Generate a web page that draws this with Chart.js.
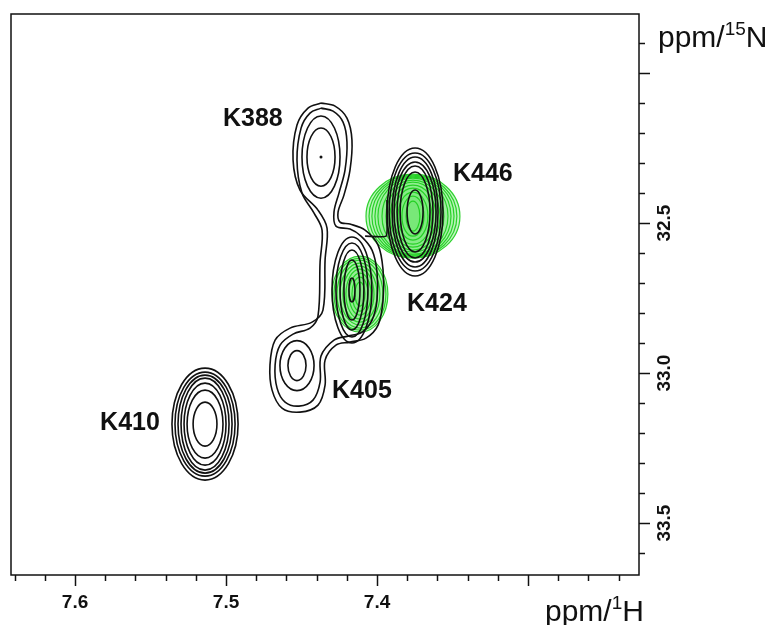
<!DOCTYPE html>
<html>
<head>
<meta charset="utf-8">
<script src="https://cdn.jsdelivr.net/npm/chart.js@4/dist/chart.umd.min.js"></script>
<style>
  html, body { margin: 0; padding: 0; background: #fff; }
  #wrap { width: 781px; height: 625px; }
</style>
</head>
<body>
<div id="wrap"><canvas id="NmrChart"></canvas></div>
<script>
// axis ranges in ppm (both axes run "backwards")
const xRange = [7.2265, 7.6424]
const yRange = [31.803, 33.673]

const xMajorTicks = [7.6, 7.5, 7.4, 7.3]
const xTickLabels = ['7.6', '7.5', '7.4', '']
const xMinorTicks = [7.64, 7.62, 7.58, 7.56, 7.54, 7.52, 7.48, 7.46, 7.44, 7.42, 7.38, 7.36, 7.34, 7.32, 7.28, 7.26, 7.24]
const yMajorTicks = [32.0, 32.5, 33.0, 33.5]
const yTickLabels = ['', '32.5', '33.0', '33.5']
const yMinorTicks = [31.9, 32.1, 32.2, 32.3, 32.4, 32.6, 32.7, 32.8, 32.9, 33.1, 33.2, 33.3, 33.4, 33.6]

// peaks (black spectrum)
const peakNames = ['K388', 'K446', 'K424', 'K405', 'K410']
const peakH = [7.4371, 7.3748, 7.4166, 7.4530, 7.5139]
const peakN = [32.28, 32.463, 32.723, 32.975, 33.17]
// contour half widths per peak, [dH, dN] in ppm
const peakLevels = [
  [[0.0093, 0.097], [0.0126, 0.137]],
  [[0.0185, 0.2133], [0.0172, 0.1967], [0.0152, 0.1833], [0.0139, 0.1667], [0.0119, 0.1533], [0.0099, 0.1333], [0.0053, 0.0733]],
  [[0.002, 0.04], [0.0053, 0.1], [0.0079, 0.1333], [0.0106, 0.1567], [0.0132, 0.1767]],
  [[0.006, 0.05], [0.0113, 0.0833]],
  [[0.0219, 0.1867], [0.0199, 0.1733], [0.0179, 0.1633], [0.0159, 0.1533], [0.0139, 0.1367], [0.0119, 0.1133], [0.0079, 0.0733]]
]
// label anchors (left, baseline) in ppm
const labelH = [7.502, 7.3497, 7.3801, 7.4298, 7.5834]
const labelN = [32.1767, 32.36, 32.7933, 33.0833, 33.19]

// green spectrum
const greenH = [7.3762, 7.4113]
const greenN = [32.477, 32.7367]
const greenLevels = [
  [[0.0311, 0.14], [0.0291, 0.1367], [0.0272, 0.1333], [0.0252, 0.13], [0.0232, 0.1267], [0.0205, 0.12], [0.0179, 0.1133], [0.0152, 0.1033], [0.0126, 0.0933], [0.0099, 0.08], [0.0073, 0.0667], [0.0046, 0.05]],
  [[0.0185, 0.1267], [0.0172, 0.12], [0.0152, 0.1133], [0.0132, 0.1033], [0.0113, 0.0933], [0.0093, 0.0833], [0.0073, 0.07], [0.0053, 0.0567], [0.0033, 0.04]]
]

// merged outer contours K388 - K424 - K405
const bridgeOuterH = [7.4371, 7.4278, 7.4199, 7.4166, 7.4179, 7.4219, 7.4258, 7.4245, 7.4179, 7.4079, 7.3993, 7.3960, 7.3960, 7.3993, 7.4073, 7.4179, 7.4272, 7.4344, 7.4344, 7.4391, 7.4510, 7.4629, 7.4695, 7.4709, 7.4675, 7.4576, 7.4430, 7.4358, 7.4344, 7.4331, 7.4391, 7.4510, 7.4556, 7.4530, 7.4457, 7.4371]
const bridgeOuterN = [32.10, 32.11, 32.15, 32.2233, 32.3233, 32.4067, 32.4633, 32.4967, 32.5033, 32.5233, 32.5733, 32.6567, 32.7567, 32.84, 32.8833, 32.8967, 32.9067, 32.9567, 33.04, 33.1067, 33.13, 33.1167, 33.0567, 32.9733, 32.89, 32.85, 32.83, 32.79, 32.6233, 32.5167, 32.4567, 32.39, 32.29, 32.1733, 32.1167, 32.10]
const bridgeInnerH = [7.4371, 7.4291, 7.4225, 7.4199, 7.4212, 7.4252, 7.4285, 7.4272, 7.4179, 7.4106, 7.4033, 7.4000, 7.4000, 7.4033, 7.4099, 7.4192, 7.4285, 7.4371, 7.4377, 7.4424, 7.4517, 7.4609, 7.4662, 7.4675, 7.4642, 7.4556, 7.4444, 7.4391, 7.4377, 7.4364, 7.4417, 7.4497, 7.4530, 7.4503, 7.4444, 7.4371]
const bridgeInnerN = [32.1167, 32.1267, 32.1633, 32.23, 32.3233, 32.40, 32.4633, 32.51, 32.52, 32.5433, 32.59, 32.6633, 32.7567, 32.8233, 32.8633, 32.8767, 32.89, 32.9433, 33.03, 33.09, 33.11, 33.0967, 33.05, 32.9733, 32.9067, 32.87, 32.85, 32.81, 32.63, 32.5233, 32.4667, 32.40, 32.29, 32.1833, 32.1333, 32.1167]
// short joint between K424 and K446 outer contours
const joinH = [7.4079, 7.3940, 7.3934, 7.3934]
const joinN = [32.5433, 32.5433, 32.4967, 32.4233]

const toPoints = (hs, ns) => hs.map((h, i) => ({ x: h, y: ns[i] }))

// ellipses, ticks, box and text all go through the chart scales
const nmrPlugin = {
  id: 'nmr',
  beforeDatasetsDraw(chart) {
    const ctx = chart.ctx
    const xs = chart.scales.x, ys = chart.scales.y
    const ell = (h, n, dh, dn) => {
      const cx = xs.getPixelForValue(h), cy = ys.getPixelForValue(n)
      const rx = Math.abs(xs.getPixelForValue(h + dh) - cx)
      const ry = Math.abs(ys.getPixelForValue(n + dn) - cy)
      ctx.beginPath()
      ctx.ellipse(cx, cy, rx, ry, 0, 0, Math.PI * 2)
    }
    ctx.save()
    // green first, black on top
    greenLevels.forEach((levels, p) => {
      levels.forEach((l, i) => {
        ell(greenH[p], greenN[p], l[0], l[1])
        ctx.fillStyle = i === 0 ? 'rgba(120, 235, 120, 0.45)' : 'rgba(90, 225, 90, 0.10)'
        ctx.fill()
        ctx.strokeStyle = 'rgba(25, 205, 25, 0.9)'
        ctx.lineWidth = 1.2
        ctx.stroke()
      })
    })
    peakLevels.forEach((levels, p) => {
      levels.forEach(l => {
        ell(peakH[p], peakN[p], l[0], l[1])
        ctx.strokeStyle = '#111'
        ctx.lineWidth = 1.6
        ctx.stroke()
      })
    })
    ctx.restore()
  },
  afterDraw(chart) {
    const ctx = chart.ctx
    const a = chart.chartArea
    const xs = chart.scales.x, ys = chart.scales.y
    ctx.save()
    ctx.strokeStyle = '#111'
    ctx.lineWidth = 1.5
    ctx.strokeRect(a.left, a.top, a.right - a.left, a.bottom - a.top)

    // ticks outside the box
    const xt = (v, len) => {
      const px = Math.round(xs.getPixelForValue(v)) + 0.5
      ctx.beginPath(); ctx.moveTo(px, a.bottom); ctx.lineTo(px, a.bottom + len); ctx.stroke()
    }
    xMinorTicks.forEach(v => xt(v, 6))
    xMajorTicks.forEach(v => xt(v, 11))
    const yt = (v, len) => {
      const py = Math.round(ys.getPixelForValue(v)) + 0.5
      ctx.beginPath(); ctx.moveTo(a.right, py); ctx.lineTo(a.right + len, py); ctx.stroke()
    }
    yMinorTicks.forEach(v => yt(v, 6))
    yMajorTicks.forEach(v => yt(v, 11))

    ctx.fillStyle = '#111'
    ctx.font = 'bold 19px "Liberation Sans", Arial, sans-serif'
    ctx.textAlign = 'center'
    ctx.textBaseline = 'alphabetic'
    xMajorTicks.forEach((v, i) => {
      ctx.fillText(xTickLabels[i], xs.getPixelForValue(v), a.bottom + 33)
    })
    yMajorTicks.forEach((v, i) => {
      ctx.save()
      ctx.translate(a.right + 31, ys.getPixelForValue(v))
      ctx.rotate(-Math.PI / 2)
      ctx.fillText(yTickLabels[i], 0, 0)
      ctx.restore()
    })

    // axis titles with superscripts
    const title = (x, y, before, sup, after) => {
      ctx.textAlign = 'left'
      ctx.font = '30px "Liberation Sans", Arial, sans-serif'
      ctx.fillText(before, x, y)
      let w = ctx.measureText(before).width
      ctx.font = '19px "Liberation Sans", Arial, sans-serif'
      ctx.fillText(sup, x + w, y - 12)
      w += ctx.measureText(sup).width
      ctx.font = '30px "Liberation Sans", Arial, sans-serif'
      ctx.fillText(after, x + w, y)
    }
    title(a.right - 94, a.bottom + 46, 'ppm/', '1', 'H')
    title(a.right + 19, 47, 'ppm/', '15', 'N')

    // peak labels
    ctx.font = 'bold 25px "Liberation Sans", Arial, sans-serif'
    ctx.textAlign = 'left'
    peakNames.forEach((name, i) => {
      ctx.fillText(name, xs.getPixelForValue(labelH[i]), ys.getPixelForValue(labelN[i]))
    })
    ctx.restore()
  }
}

const lineSet = (label, hs, ns, tension) => ({
  label: label,
  data: toPoints(hs, ns),
  showLine: true,
  borderColor: '#111',
  borderWidth: 1.6,
  pointRadius: 0,
  tension: tension
})

new Chart(document.getElementById('NmrChart'), {
  type: 'scatter',
  data: {
    datasets: [
      lineSet('outer', bridgeOuterH, bridgeOuterN, 0.35),
      lineSet('inner', bridgeInnerH, bridgeInnerN, 0.35),
      lineSet('join', joinH, joinN, 0.2),
      {
        label: 'K388 max',
        data: [{ x: peakH[0], y: peakN[0] }],
        pointRadius: 1.5,
        pointBackgroundColor: '#111',
        pointBorderWidth: 0
      }
    ]
  },
  options: {
    responsive: true,
    maintainAspectRatio: false,
    animation: false,
    layout: { padding: { left: 11, top: 14, right: 142, bottom: 50 } },
    plugins: {
      legend: { display: false },
      tooltip: { enabled: false }
    },
    scales: {
      x: { type: 'linear', reverse: true, min: xRange[0], max: xRange[1], display: false },
      y: { type: 'linear', reverse: true, min: yRange[0], max: yRange[1], display: false }
    }
  },
  plugins: [nmrPlugin]
})
</script>
</body>
</html>
